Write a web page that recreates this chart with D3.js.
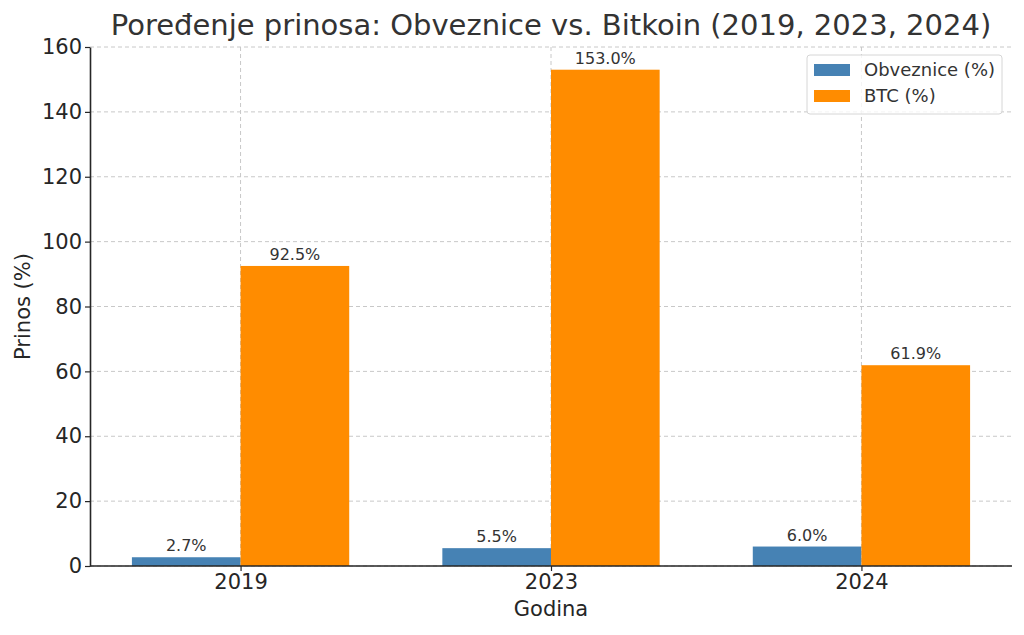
<!DOCTYPE html>
<html>
<head>
<meta charset="utf-8">
<script src="https://cdn.jsdelivr.net/npm/d3@7"></script>
<style>
  body { margin: 0; background: #fff; }
  text { font-family: "DejaVu Sans", sans-serif; fill: #262626; }
</style>
</head>
<body>
<svg width="1024" height="635"></svg>
<script>
// data
var years = ["2019", "2023", "2024"];
var bonds = [2.7, 5.5, 6.0];
var btc = [92.5, 153.0, 61.9];
var seriesNames = ["Obveznice (%)", "BTC (%)"];
var seriesColors = ["#4682b4", "#ff8c00"];
var yTicks = [0, 20, 40, 60, 80, 100, 120, 140, 160];

var svg = d3.select("svg");
var margin = {top: 47, right: 12, bottom: 69, left: 90},
    width = 1024 - margin.left - margin.right,
    height = 635 - margin.top - margin.bottom;

var g = svg.append("g")
    .attr("transform", "translate(" + margin.left + "," + margin.top + ")");

// x positions: bar centers at 0,1,2 with range padded like matplotlib
var xScale = d3.scaleLinear().domain([-0.485, 2.485]).range([0, width]);
var yScale = d3.scaleLinear().domain([0, 160]).range([height, 0]);
var barW = 0.35;

// grid
g.append("g").selectAll("line.h")
  .data(yTicks).enter().append("line")
  .attr("x1", 0).attr("x2", width)
  .attr("y1", d => yScale(d)).attr("y2", d => yScale(d))
  .style("stroke", "#c8c8c8").style("stroke-dasharray", "4,3").style("stroke-width", 1);
g.append("g").selectAll("line.v")
  .data(years).enter().append("line")
  .attr("x1", (d, i) => xScale(i)).attr("x2", (d, i) => xScale(i))
  .attr("y1", 0).attr("y2", height)
  .style("stroke", "#c8c8c8").style("stroke-dasharray", "4,3").style("stroke-width", 1);

// bars
var series = [bonds, btc];
series.forEach(function(vals, s) {
  var off = s === 0 ? -barW : 0;
  g.append("g").selectAll("rect")
    .data(vals).enter().append("rect")
    .attr("x", (d, i) => xScale(i + off))
    .attr("width", xScale(barW) - xScale(0))
    .attr("y", d => yScale(d))
    .attr("height", d => height - yScale(d))
    .style("fill", seriesColors[s]);
  g.append("g").selectAll("text")
    .data(vals).enter().append("text")
    .attr("x", (d, i) => xScale(i + off + barW / 2))
    .attr("y", d => yScale(d) - 6)
    .attr("text-anchor", "middle")
    .style("font-size", "16px")
    .style("fill", "#333")
    .text(d => d.toFixed(1) + "%");
});

// axes
var xAxis = g.append("g")
  .attr("transform", "translate(0," + height + ")")
  .call(d3.axisBottom(xScale).tickValues([0, 1, 2]).tickFormat(i => years[i]).tickSize(5).tickSizeOuter(0));
var yAxis = g.append("g")
  .call(d3.axisLeft(yScale).tickValues(yTicks).tickSize(5).tickSizeOuter(0));
[xAxis, yAxis].forEach(function(a) {
  a.select(".domain").style("stroke", "#262626").style("stroke-width", 1.6);
  a.selectAll(".tick line").style("stroke", "#262626").style("stroke-width", 1.2);
  a.selectAll(".tick text").style("font-size", "21px").style("font-family", "DejaVu Sans").style("fill", "#262626");
});
xAxis.select(".domain").attr("d", "M0,0H" + width);

// titles
svg.append("text")
  .attr("x", margin.left + width / 2).attr("y", 35)
  .attr("text-anchor", "middle")
  .style("font-size", "29px")
  .style("fill", "#333")
  .text("Poređenje prinosa: Obveznice vs. Bitkoin (2019, 2023, 2024)");
svg.append("text")
  .attr("x", margin.left + width / 2).attr("y", 616)
  .attr("text-anchor", "middle")
  .style("font-size", "21px")
  .text("Godina");
svg.append("text")
  .attr("transform", "translate(30," + (margin.top + height / 2) + ")rotate(-90)")
  .attr("text-anchor", "middle")
  .style("font-size", "21px")
  .text("Prinos (%)");

// legend
var lg = svg.append("g").attr("transform", "translate(807,55)");
lg.append("rect").attr("width", 195).attr("height", 59).attr("rx", 3)
  .style("fill", "#fff").style("fill-opacity", 0.8).style("stroke", "#d6d6d6");
seriesNames.forEach(function(n, i) {
  lg.append("rect").attr("x", 7).attr("y", 9 + i * 26).attr("width", 36).attr("height", 12)
    .style("fill", seriesColors[i]);
  lg.append("text").attr("x", 57).attr("y", 21 + i * 26)
    .style("font-size", "18px").style("fill", "#333").text(n);
});
</script>
</body>
</html>
